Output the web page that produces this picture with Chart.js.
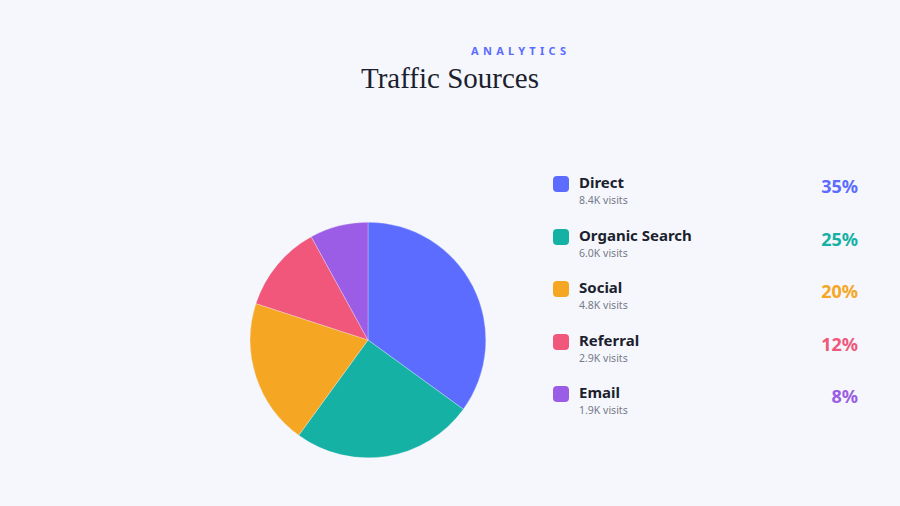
<!DOCTYPE html>
<html>
<head>
<meta charset="utf-8">
<script src="https://cdn.jsdelivr.net/npm/chart.js@4.4.0/dist/chart.umd.min.js"></script>
<style>
  html, body { margin: 0; padding: 0; }
  body { width: 900px; height: 506px; background: #f5f7fc; position: relative; overflow: hidden; font-family: "Noto Sans", sans-serif; }
  .kicker { position: absolute; left: 471px; top: 43px; font-size: 11px; font-weight: 700; letter-spacing: 4.3px; color: #5b6cff; }
  .title { position: absolute; left: 0; width: 900px; top: 62px; text-align: center; font-family: "Liberation Serif", "DejaVu Serif", serif; font-size: 29px; color: #1c1f2e; }
  #wrap { position: absolute; left: 248px; top: 220px; width: 240px; height: 240px; }
  #legend { position: absolute; left: 553px; top: 173px; width: 305px; }
  .row { position: relative; height: 52.5px; }
  .sw { position: absolute; left: 0; top: 3px; width: 16px; height: 16px; border-radius: 4px; }
  .name { position: absolute; left: 26px; top: -1px; font-size: 15px; font-weight: 700; color: #1c1f2e; }
  .sub { position: absolute; left: 26px; top: 20px; font-size: 10.5px; color: #767a88; }
  .pct { position: absolute; right: 0; top: 1px; font-size: 18px; font-weight: 700; }
</style>
</head>
<body>
<div class="kicker">ANALYTICS</div>
<div class="title">Traffic Sources</div>
<div id="wrap"><canvas id="pieChart"></canvas></div>
<div id="legend"></div>
<script>
const sources = ["Direct", "Organic Search", "Social", "Referral", "Email"];
const shares = [35, 25, 20, 12, 8];
const visits = ["8.4K", "6.0K", "4.8K", "2.9K", "1.9K"];
const colors = ["#5b6cff", "#15b1a4", "#f5a623", "#f0577b", "#9b5de5"];

// legend on the right
let html = "";
sources.forEach((s, i) => {
    html += `<div class="row"><div class="sw" style="background:${colors[i]}"></div>
             <div class="name">${s}</div><div class="sub">${visits[i]} visits</div>
             <div class="pct" style="color:${colors[i]}">${shares[i]}%</div></div>`;
});
document.getElementById("legend").innerHTML = html;

const ctx = document.getElementById("pieChart").getContext("2d");
new Chart(ctx, {
    type: "pie",
    data: {
        labels: sources,
        datasets: [{ data: shares, backgroundColor: colors, borderWidth: 0.3, borderColor: "#f5f7fc" }]
    },
    options: {
        responsive: true,
        maintainAspectRatio: false,
        animation: false,
        layout: { padding: 2 },
        plugins: { legend: { display: false }, tooltip: { enabled: false } }
    }
});
</script>
</body>
</html>
